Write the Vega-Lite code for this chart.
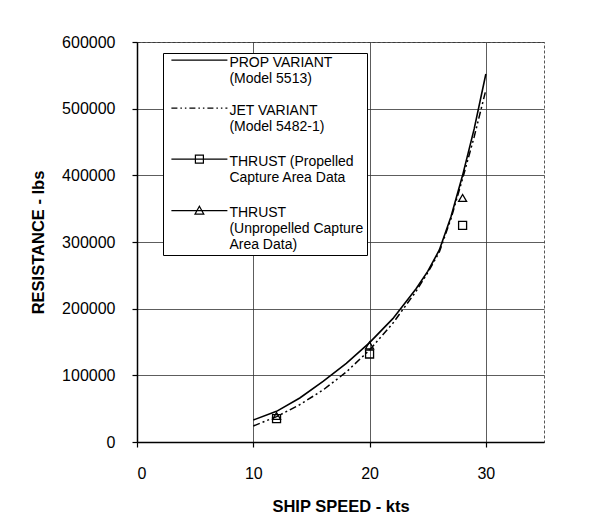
{
  "$schema": "https://vega.github.io/schema/vega-lite/v6.json",
  "width": 407,
  "height": 400,
  "autosize": {"type": "none"},
  "padding": {"left": 137, "top": 42, "right": 51, "bottom": 84},
  "background": "white",
  "config": {
    "view": {"stroke": "#555", "strokeWidth": 1, "strokeDash": [3, 2]},
    "font": "Liberation Sans",
    "axis": {
      "labelFont": "Liberation Sans",
      "titleFont": "Liberation Sans",
      "labelFontSize": 16,
      "labelColor": "black",
      "titleFontSize": 16.5,
      "titleFontWeight": "bold",
      "titleColor": "black",
      "domainColor": "black",
      "domainWidth": 1.5,
      "tickColor": "black",
      "tickSize": 5,
      "tickWidth": 1.2,
      "grid": true,
      "gridColor": "#333",
      "gridWidth": 0.8
    }
  },
  "data": {
    "values": [
      {"series": "PROP", "speed": 10, "resistance": 33000},
      {"series": "PROP", "speed": 12, "resistance": 46000},
      {"series": "PROP", "speed": 14, "resistance": 66000},
      {"series": "PROP", "speed": 16, "resistance": 91000},
      {"series": "PROP", "speed": 18, "resistance": 118000},
      {"series": "PROP", "speed": 20, "resistance": 149000},
      {"series": "PROP", "speed": 22, "resistance": 185000},
      {"series": "PROP", "speed": 24, "resistance": 230000},
      {"series": "PROP", "speed": 25, "resistance": 256000},
      {"series": "PROP", "speed": 26, "resistance": 288000},
      {"series": "PROP", "speed": 27, "resistance": 338000},
      {"series": "PROP", "speed": 28, "resistance": 400000},
      {"series": "PROP", "speed": 29, "resistance": 470000},
      {"series": "PROP", "speed": 30, "resistance": 552000},
      {"series": "JET", "speed": 10, "resistance": 24000},
      {"series": "JET", "speed": 12, "resistance": 38000},
      {"series": "JET", "speed": 14, "resistance": 56000},
      {"series": "JET", "speed": 16, "resistance": 78000},
      {"series": "JET", "speed": 18, "resistance": 105000},
      {"series": "JET", "speed": 20, "resistance": 138000},
      {"series": "JET", "speed": 22, "resistance": 178000},
      {"series": "JET", "speed": 24, "resistance": 226000},
      {"series": "JET", "speed": 25, "resistance": 254000},
      {"series": "JET", "speed": 26, "resistance": 285000},
      {"series": "JET", "speed": 27, "resistance": 335000},
      {"series": "JET", "speed": 28, "resistance": 395000},
      {"series": "JET", "speed": 29, "resistance": 458000},
      {"series": "JET", "speed": 30, "resistance": 528000},
      {"series": "THRUST_P", "speed": 12, "resistance": 35000},
      {"series": "THRUST_P", "speed": 20, "resistance": 132000},
      {"series": "THRUST_P", "speed": 28, "resistance": 325000},
      {"series": "THRUST_U", "speed": 12, "resistance": 39000},
      {"series": "THRUST_U", "speed": 20, "resistance": 145000},
      {"series": "THRUST_U", "speed": 28, "resistance": 366000}
    ]
  },
  "encoding": {
    "x": {
      "field": "speed",
      "type": "quantitative",
      "scale": {"domain": [0, 35], "nice": false, "zero": false},
      "axis": {"title": "SHIP SPEED - kts", "values": [0, 10, 20, 30], "labelPadding": 18, "titlePadding": 17}
    },
    "y": {
      "field": "resistance",
      "type": "quantitative",
      "scale": {"domain": [0, 600000], "nice": false},
      "axis": {
        "title": "RESISTANCE - lbs",
        "values": [0, 100000, 200000, 300000, 400000, 500000, 600000],
        "format": "d",
        "labelPadding": 17,
        "titlePadding": 15
      }
    }
  },
  "layer": [
    {
      "transform": [{"filter": "datum.series === 'PROP'"}],
      "mark": {"type": "line", "color": "black", "strokeWidth": 1.6}
    },
    {
      "transform": [{"filter": "datum.series === 'JET'"}],
      "mark": {"type": "line", "color": "black", "strokeWidth": 1.5, "strokeDash": [7, 3, 2, 3, 2, 3]}
    },
    {
      "transform": [{"filter": "datum.series === 'THRUST_P'"}],
      "mark": {"type": "point", "shape": "square", "filled": false, "color": "black", "size": 64, "strokeWidth": 1.3, "opacity": 1}
    },
    {
      "transform": [{"filter": "datum.series === 'THRUST_U'"}],
      "mark": {"type": "point", "shape": "triangle-up", "filled": false, "color": "black", "size": 64, "strokeWidth": 1.3, "opacity": 1}
    },
    {
      "transform": [{"filter": "false"}],
      "mark": {"type": "point", "filled": false, "color": "black", "opacity": 1},
      "encoding": {
        "shape": {
          "field": "series",
          "type": "nominal",
          "scale": {
            "domain": ["PROP", "JET", "THRUST_P", "THRUST_U"],
            "range": [
              "M-14,-1.4H14",
              "M-14,-1.4H-11M-9.5,-1.4H-8.75M-7.25,-1.4H-6.5M-5,-1.4H-2M-0.5,-1.4H0.25M1.75,-1.4H2.5M4,-1.4H7M8.5,-1.4H9.25M10.75,-1.4H11.5M13,-1.4H14",
              "M-14,-1.4H14M-2,-3.4H2V0.6H-2Z",
              "M-14,-1.2H14M0,-3.4L2.2,0.6H-2.2Z"
            ]
          },
          "legend": {
            "title": null,
            "orient": "none",
            "legendX": 26,
            "legendY": 11,
            "strokeColor": "black",
            "fillColor": "white",
            "padding": 3,
            "labelFont": "Liberation Sans",
            "labelFontSize": 14,
            "labelColor": "black",
            "labelLimit": 300,
            "labelBaseline": "middle",
            "labelOffset": 23,
            "symbolOffset": 26.4,
            "symbolSize": 16,
            "symbolStrokeWidth": 1.2,
            "symbolStrokeColor": "black",
            "symbolFillColor": "transparent",
            "rowPadding": 18,
            "labelExpr": "datum.value === 'PROP' ? ['PROP VARIANT', '(Model 5513)'] : datum.value === 'JET' ? ['JET VARIANT', '(Model 5482-1)'] : datum.value === 'THRUST_P' ? ['THRUST (Propelled', 'Capture Area Data'] : ['THRUST', '(Unpropelled Capture', 'Area Data)']"
          }
        }
      }
    }
  ]
}
